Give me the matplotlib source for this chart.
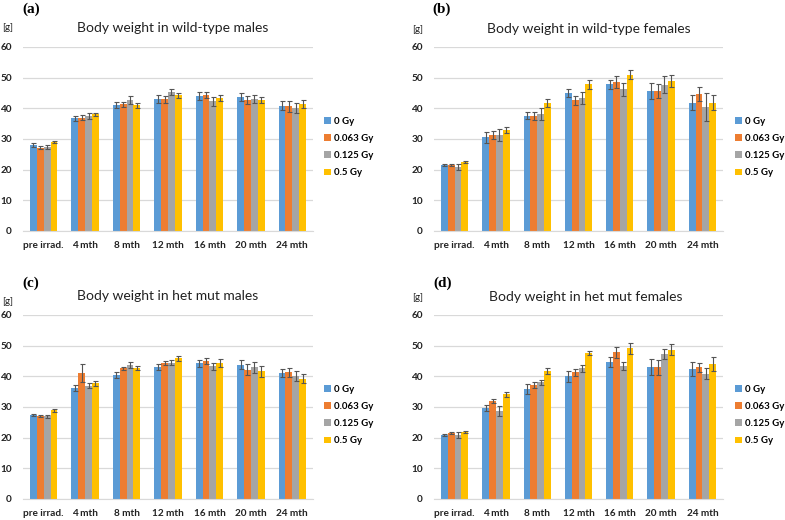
import numpy as np
import matplotlib
matplotlib.use("Agg")
import matplotlib.pyplot as plt

# Body weight data (g)
categorias = ["pre irrad.", "4 mth", "8 mth", "12 mth", "16 mth", "20 mth", "24 mth"]
dosis = ["0 Gy", "0.063 Gy", "0.125 Gy", "0.5 Gy"]
colores = ["#5B9BD5", "#ED7D31", "#A5A5A5", "#FFC000"]

# (a) wild-type males
wt_m_0 = [28.0, 36.7, 41.0, 43.0, 44.1, 43.7, 40.9]
wt_m_063 = [27.2, 36.9, 41.3, 42.9, 44.4, 42.8, 40.6]
wt_m_125 = [27.3, 37.6, 42.7, 45.3, 42.3, 43.1, 40.2]
wt_m_5 = [29.0, 38.0, 41.0, 44.2, 43.4, 42.7, 41.4]
wt_m_err_0 = [0.6, 0.9, 1.0, 1.2, 1.3, 1.3, 1.5]
wt_m_err_063 = [0.5, 0.8, 0.8, 1.0, 1.0, 1.3, 1.7]
wt_m_err_125 = [0.7, 1.0, 1.3, 1.1, 1.5, 1.2, 1.6]
wt_m_err_5 = [0.4, 0.6, 0.8, 0.8, 0.9, 1.1, 1.4]

# (b) wild-type females
wt_f_0 = [21.4, 30.5, 37.6, 45.0, 47.9, 45.7, 41.8]
wt_f_063 = [21.5, 31.4, 37.6, 42.6, 48.6, 45.6, 44.7]
wt_f_125 = [20.8, 31.3, 38.1, 43.3, 46.2, 47.7, 40.5]
wt_f_5 = [22.6, 33.0, 41.8, 47.9, 51.0, 49.0, 41.9]
wt_f_err_0 = [0.3, 1.8, 1.2, 1.3, 1.5, 2.6, 2.4]
wt_f_err_063 = [0.3, 1.3, 1.3, 1.4, 2.0, 2.2, 2.3]
wt_f_err_125 = [1.0, 2.0, 2.0, 2.0, 2.2, 2.7, 4.6]
wt_f_err_5 = [0.3, 1.0, 1.4, 1.5, 1.4, 2.0, 2.3]

# (c) het mut males
het_m_0 = [27.4, 36.2, 40.5, 43.0, 44.2, 43.8, 41.0]
het_m_063 = [27.2, 41.1, 42.6, 44.3, 44.9, 42.1, 41.3]
het_m_125 = [27.0, 36.9, 43.6, 44.5, 43.3, 43.0, 40.1]
het_m_5 = [28.9, 37.8, 42.8, 45.9, 44.3, 41.6, 39.2]
het_m_err_0 = [0.4, 0.9, 1.0, 1.0, 1.2, 1.5, 1.3]
het_m_err_063 = [0.3, 3.0, 0.6, 0.7, 1.0, 1.8, 1.4]
het_m_err_125 = [0.5, 0.8, 1.0, 0.8, 1.2, 1.8, 1.6]
het_m_err_5 = [0.5, 0.8, 0.7, 0.8, 1.2, 1.8, 1.5]

# (d) het mut females
het_f_0 = [21.0, 29.7, 35.9, 40.1, 44.8, 43.1, 42.4]
het_f_063 = [21.4, 32.0, 37.1, 41.3, 47.9, 42.9, 42.9]
het_f_125 = [20.9, 28.7, 38.0, 42.6, 43.3, 47.3, 40.9]
het_f_5 = [21.8, 34.1, 41.8, 47.5, 49.2, 48.7, 44.1]
het_f_err_0 = [0.3, 0.9, 1.7, 1.8, 1.6, 2.6, 2.3]
het_f_err_063 = [0.3, 0.6, 1.0, 1.1, 1.8, 2.5, 1.6]
het_f_err_125 = [1.0, 1.7, 0.8, 1.1, 1.3, 1.7, 1.9]
het_f_err_5 = [0.3, 0.9, 1.0, 0.7, 1.8, 1.9, 2.3]

paneles = [
    ("(a)", "Body weight in wild-type males",
     [wt_m_0, wt_m_063, wt_m_125, wt_m_5],
     [wt_m_err_0, wt_m_err_063, wt_m_err_125, wt_m_err_5]),
    ("(b)", "Body weight in wild-type females",
     [wt_f_0, wt_f_063, wt_f_125, wt_f_5],
     [wt_f_err_0, wt_f_err_063, wt_f_err_125, wt_f_err_5]),
    ("(c)", "Body weight in het mut males",
     [het_m_0, het_m_063, het_m_125, het_m_5],
     [het_m_err_0, het_m_err_063, het_m_err_125, het_m_err_5]),
    ("(d)", "Body weight in het mut females",
     [het_f_0, het_f_063, het_f_125, het_f_5],
     [het_f_err_0, het_f_err_063, het_f_err_125, het_f_err_5]),
]

W, H = 785, 520
plt.rcParams["font.family"] = ["Lato", "DejaVu Sans"]

fig = plt.figure(figsize=(W / 100, H / 100), dpi=100)

# pixel layout: (left, top, width, height) of plot area, title centre, label spots
layout = [
    dict(ax=(23, 47, 290, 184), title=(173, 28), lab=(22, 9), g=(2, 28), leg=(324, 147)),
    dict(ax=(434, 47, 289, 184), title=(589, 29), lab=(432, 9), g=(412, 29), leg=(735, 147)),
    dict(ax=(23, 315, 290, 184), title=(168, 296), lab=(22, 283), g=(2, 301), leg=(324, 415)),
    dict(ax=(434, 315, 289, 184), title=(586, 297), lab=(433, 283), g=(412, 297), leg=(735, 415)),
]

x = np.arange(len(categorias))
ancho = 0.165

for (etiqueta, titulo, series, errores), lay in zip(paneles, layout):
    l, t, w, h = lay["ax"]
    ax = fig.add_axes([l / W, 1 - (t + h) / H, w / W, h / H])
    for i, (vals, errs) in enumerate(zip(series, errores)):
        pos = x + (i - 1.5) * ancho
        ax.bar(pos, vals, width=ancho, color=colores[i], label=dosis[i], zorder=2)
        ax.errorbar(pos, vals, yerr=errs, fmt="none", ecolor="#555555",
                    elinewidth=0.8, capsize=1.8, capthick=0.8, zorder=3)
    ax.set_xlim(-0.5, len(categorias) - 0.5)
    ax.set_ylim(0, 60)
    ax.set_yticks(range(0, 61, 10))
    ax.set_xticks(x)
    ax.set_xticklabels(categorias)
    ax.yaxis.grid(True, color="#D9D9D9", linewidth=0.9, zorder=0)
    ax.set_axisbelow(True)
    for s in ["top", "right", "left"]:
        ax.spines[s].set_visible(False)
    ax.spines["bottom"].set_color("#D9D9D9")
    ax.tick_params(axis="both", length=0, labelsize=7.2, colors="#222222")
    ax.tick_params(axis="x", pad=7)
    ax.tick_params(axis="y", pad=8)
    for lbl in ax.get_xticklabels() + ax.get_yticklabels():
        lbl.set_fontweight("bold")

    lx, ly = lay["leg"]
    leg = ax.legend(loc="center left",
                    bbox_to_anchor=((lx - l) / w, 1 - (ly - t) / h),
                    frameon=False, fontsize=6.9, handlelength=0.7, handleheight=0.7,
                    handletextpad=0.35, labelspacing=0.85, borderaxespad=0,
                    borderpad=0)
    for txt in leg.get_texts():
        txt.set_fontweight("bold")

    tx, ty = lay["title"]
    fig.text(tx / W, 1 - ty / H, titulo, ha="center", va="center", fontsize=10,
             color="#222222")
    px, py = lay["lab"]
    fig.text(px / W, 1 - py / H, etiqueta, ha="left", va="center", fontsize=11,
             fontweight="bold", family=["Liberation Serif", "DejaVu Serif"])
    gx, gy = lay["g"]
    fig.text(gx / W, 1 - gy / H, "[g]", ha="left", va="center", fontsize=7,
             color="#222222")

fig.savefig("out.png", dpi=100)
